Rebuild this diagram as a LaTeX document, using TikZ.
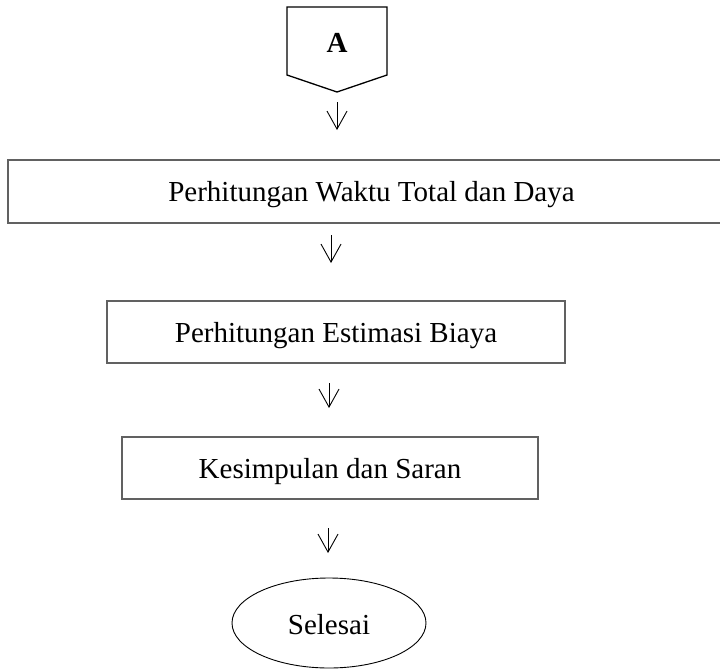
\documentclass[tikz,border=0pt]{standalone}
\usepackage{fontspec}
\setmainfont{Liberation Serif}
\usetikzlibrary{arrows.meta,shapes.geometric}
\begin{document}
\begin{tikzpicture}[x=1pt,y=-1pt,
  txt/.style={font=\fontsize{29}{34}\selectfont},
  box/.style={txt,draw=black!62,line width=1.3pt,rectangle,inner sep=0pt,text depth=0pt},
  flow/.style={line width=0.9pt,-{Straight Barb[length=18pt,width=20pt]}},
  offpage/.style={draw=black,line width=1.3pt,line join=miter}
]
\useasboundingbox (0,0) rectangle (720,669);
\clip (0,0) rectangle (720,669);

% off-page connector
\draw[offpage] (287,7) -- (387,7) -- (387,75) -- (337,92) -- (287,75) -- cycle;
\node[txt,font=\fontsize{29}{34}\selectfont\bfseries] (A) at (337,43) {A};

% boxes
\node[box,minimum width=727pt,minimum height=63pt] (b1) at (371.5,191.5) {Perhitungan Waktu Total dan Daya};
\node[box,minimum width=458pt,minimum height=62pt] (b2) at (336,332) {Perhitungan Estimasi Biaya};
\node[box,minimum width=416pt,minimum height=62pt] (b3) at (330,468) {Kesimpulan dan Saran};
\node[draw=black,ellipse,line width=0.9pt,minimum width=194pt,minimum height=90pt,inner sep=0pt] (end) at (329,623) {};
\node[txt] (endtxt) at (329,625) {Selesai};

% arrows
\coordinate (p1) at (337,102); \coordinate (q1) at (337,130);
\coordinate (p2) at (331,235); \coordinate (q2) at (331,263);
\coordinate (p3) at (329,383); \coordinate (q3) at (329,408);
\coordinate (p4) at (328,528); \coordinate (q4) at (328,553);
\draw[flow] (p1) -- (q1);
\draw[flow] (p2) -- (q2);
\draw[flow] (p3) -- (q3);
\draw[flow] (p4) -- (q4);
\end{tikzpicture}
\end{document}
